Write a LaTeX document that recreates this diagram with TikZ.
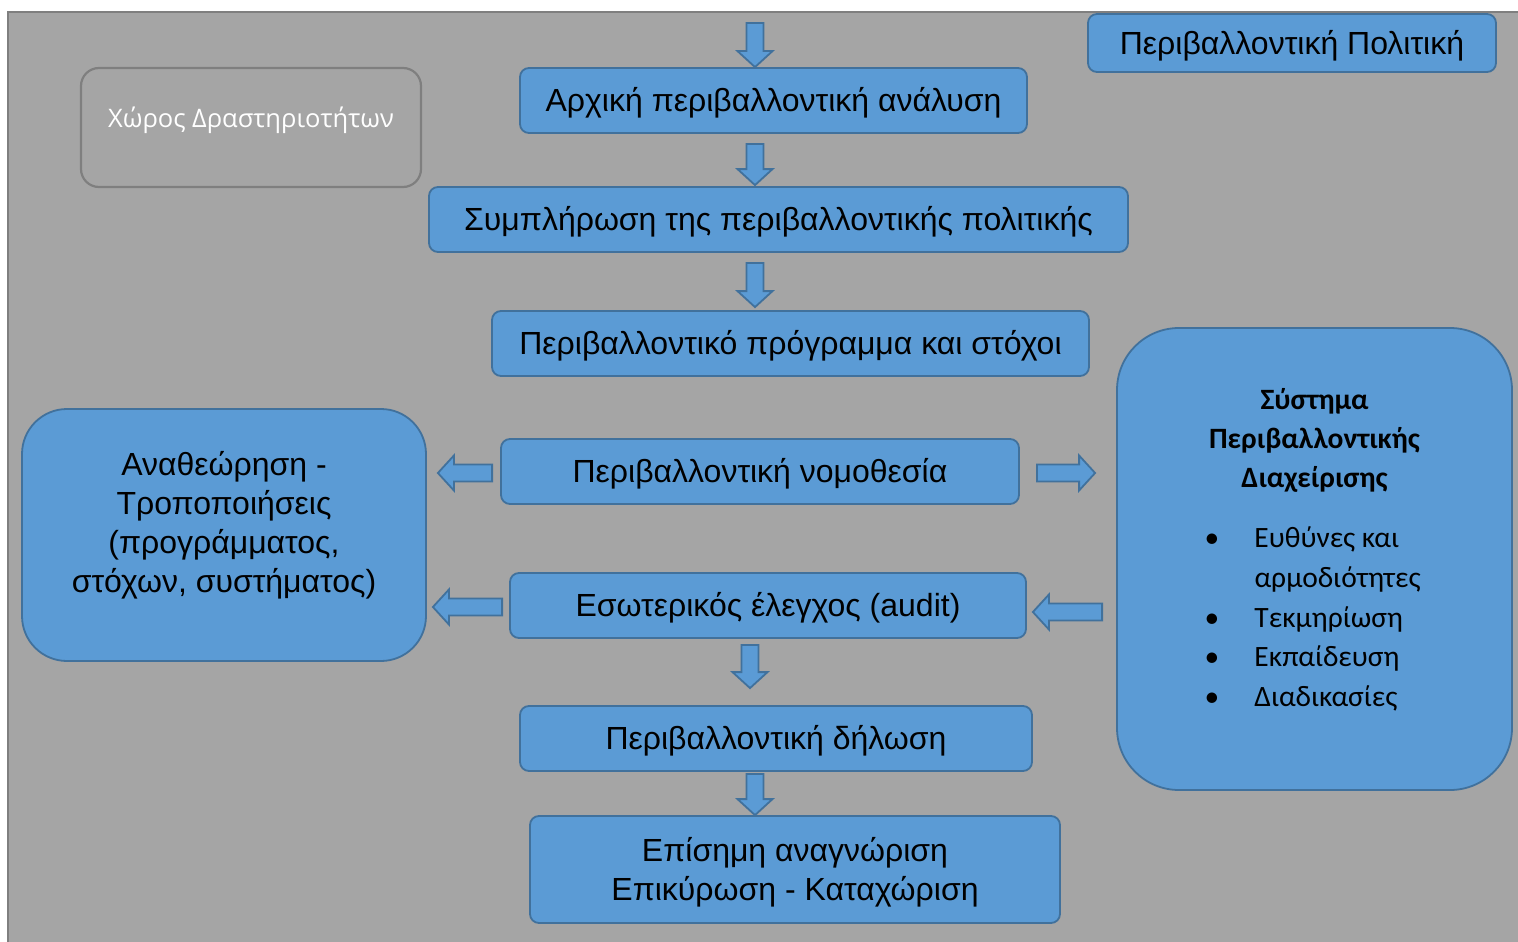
\documentclass[tikz,border=0pt]{standalone}
\usepackage{fontspec}
\setmainfont{Liberation Sans}
\newfontfamily\calfont{Carlito}
\newfontfamily\areafont{Open Sans}
\usepackage{tikz}
\usetikzlibrary{calc}
\definecolor{boxfill}{HTML}{5B9BD5}
\definecolor{boxline}{HTML}{41719C}
\definecolor{bggray}{HTML}{A5A5A5}
\definecolor{bgline}{HTML}{7F7F7F}
\tikzset{
    flow-box/.style = {draw=boxline, fill=boxfill, line width=1.8pt, rectangle, rounded corners=9pt, minimum height=65pt, inner sep=0pt, align=center, font=\fontsize{32}{39}\selectfont},
    one-line/.style = {text height=22.5pt, text depth=0pt},
    big-box/.style = {flow-box, rounded corners=45pt},
    area-box/.style = {draw=bgline, line width=2.2pt, rectangle, rounded corners=18pt, text=white, font=\areafont\fontsize{25.5}{30}\selectfont},
    block-arrow/.style = {draw=boxline, fill=boxfill, line width=1.8pt, line join=miter},
}
% block arrow from #1 (tail) to #2 (tip)
\newcommand{\blockarrow}[2]{%
    \coordinate (ba-base) at ($#2!16pt!#1$);
    \draw[block-arrow] ($#1!8.5pt!90:#2$) -- ($(ba-base)!8.5pt!-90:#1$) -- ($(ba-base)!17.5pt!-90:#1$) -- #2
        -- ($(ba-base)!17.5pt!90:#1$) -- ($(ba-base)!8.5pt!90:#1$) -- ($#1!8.5pt!-90:#2$) -- cycle;}

\begin{document}
\begin{tikzpicture}[x=1pt, y=-1pt]
\useasboundingbox (0,0) rectangle (1518,942);
\fill[bggray] (8,12) rectangle (1518,942);
\draw[bgline, line width=2pt] (8,942) -- (8,12) -- (1518,12);

\node[flow-box, one-line, minimum width=408pt, minimum height=58pt] (policy) at (1292,43) {Περιβαλλοντική Πολιτική};
\node[area-box, minimum width=340pt, minimum height=119pt] (area) at (251,127.5) {\raisebox{21pt}{Χώρος Δραστηριοτήτων}};

\node[flow-box, one-line, minimum width=507pt] (analysis) at (773.5,100.5) {Αρχική περιβαλλοντική ανάλυση};
\node[flow-box, one-line, minimum width=699pt] (complete) at (778.5,219.5) {Συμπλήρωση της περιβαλλοντικής πολιτικής};
\node[flow-box, one-line, minimum width=597pt] (program) at (790.5,343.5) {Περιβαλλοντικό πρόγραμμα και στόχοι};
\node[flow-box, one-line, minimum width=518pt] (law) at (760,471.5) {Περιβαλλοντική νομοθεσία};
\node[flow-box, one-line, minimum width=516pt] (audit) at (768,605.5) {Εσωτερικός έλεγχος (audit)};
\node[flow-box, one-line, minimum width=512pt] (statement) at (776,738.5) {Περιβαλλοντική δήλωση};
\node[flow-box, minimum width=530pt, minimum height=107pt] (register) at (795,869.5) {\raisebox{-4pt}[\height][\depth]{\begin{tabular}{@{}c@{}}Επίσημη αναγνώριση\\Επικύρωση - Καταχώριση\end{tabular}}};

\node[big-box, minimum width=404pt, minimum height=252pt] (review) at (224,535) {\raisebox{9pt}[\height][\depth]{\begin{tabular}{@{}c@{}}Αναθεώρηση -\\Τροποποιήσεις\\(προγράμματος,\\στόχων, συστήματος)\end{tabular}}};
\node[big-box, rounded corners=62pt, minimum width=395pt, minimum height=462pt] (ems) at (1314.5,559) {\begin{minipage}{300pt}\calfont\fontsize{29.5}{39}\selectfont
    \centering\textbf{Σύστημα\\Περιβαλλοντικής\\Διαχείρισης}\par
    \vspace{20pt}\raggedright\fontsize{29.5}{39.7}\selectfont
    \hspace*{40pt}\makebox[50pt][l]{\textbullet}Ευθύνες και\\
    \hspace*{90pt}αρμοδιότητες\\
    \hspace*{40pt}\makebox[50pt][l]{\textbullet}Τεκμηρίωση\\
    \hspace*{40pt}\makebox[50pt][l]{\textbullet}Εκπαίδευση\\
    \hspace*{40pt}\makebox[50pt][l]{\textbullet}Διαδικασίες\par
    \vspace{18pt}
\end{minipage}};

% vertical arrows
\coordinate (start) at (755,23);
\blockarrow{(start)}{(start |- analysis.north)}
\blockarrow{($(start |- analysis.south)+(0,10)$)}{($(start |- complete.north)+(0,-1)$)}
\blockarrow{($(start |- complete.south)+(0,10)$)}{($(start |- program.north)+(0,-3)$)}
\blockarrow{($(audit.south)+(-18,6)$)}{($(audit.south |- statement.north)+(-18,-17)$)}
\blockarrow{($(start |- statement.south)+(0,2)$)}{(start |- register.north)}

% side arrows
\blockarrow{($(law.west)+(-8,1.5)$)}{($(review.east |- law.west)+(11,1.5)$)}
\blockarrow{($(audit.west)+(-7,1.5)$)}{($(review.east |- audit.west)+(6,1.5)$)}
\blockarrow{($(law.east)+(17,1.5)$)}{($(ems.west |- law.east)+(-21,1.5)$)}
\blockarrow{($(ems.west |- audit.east)+(-14,6.5)$)}{($(audit.east)+(6,6.5)$)}
\end{tikzpicture}
\end{document}
